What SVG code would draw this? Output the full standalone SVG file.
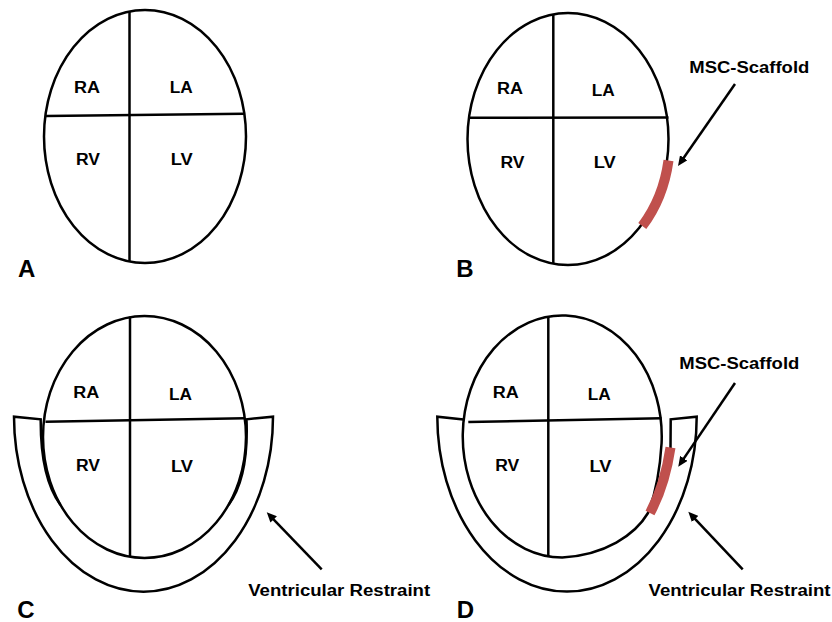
<svg xmlns="http://www.w3.org/2000/svg" width="832" height="622" viewBox="0 0 832 622">
  <style>
    .wall { fill: none; stroke: #000; stroke-width: 2.5; }
    .septum { fill: none; stroke: #000; stroke-width: 2.5; stroke-linecap: butt; }
    .restraint { fill: none; stroke: #000; stroke-width: 2.5; stroke-linejoin: miter; }
    .scaffold { fill: none; stroke: #C0504D; stroke-width: 10; stroke-linecap: butt; }
    .lbl { font-family: "Liberation Sans", Arial, Helvetica, sans-serif; font-weight: bold; font-size: 16px; fill: #000; text-anchor: middle; }
    .panel { font-family: "Liberation Sans", Arial, Helvetica, sans-serif; font-weight: bold; font-size: 24px; fill: #000; text-anchor: middle; }
    .arrow { stroke: #000; stroke-width: 2.5; fill: none; marker-end: url(#head); }
  </style>
  <defs>
    <marker id="head" viewBox="0 0 10 9" markerWidth="10" markerHeight="9" refX="3" refY="4.5" orient="auto" markerUnits="userSpaceOnUse">
      <path d="M0,0 L10,4.5 L0,9 z" fill="#000"/>
    </marker>
  </defs>
  <rect width="832" height="622" fill="#fff"/>

  <!-- Panel A: heart -->
  <g id="heart-a">
    <ellipse class="wall" cx="145" cy="136.5" rx="101" ry="126.5"/>
    <line class="septum" x1="129.5" y1="11" x2="129.5" y2="262"/>
    <line class="septum" x1="46" y1="116" x2="244" y2="113.7"/>
    <text class="lbl" x="87" y="92.7" textLength="26" lengthAdjust="spacingAndGlyphs">RA</text>
    <text class="lbl" x="181.3" y="93.3" textLength="23" lengthAdjust="spacingAndGlyphs">LA</text>
    <text class="lbl" x="88" y="165" textLength="24" lengthAdjust="spacingAndGlyphs">RV</text>
    <text class="lbl" x="181.7" y="165" textLength="22" lengthAdjust="spacingAndGlyphs">LV</text>
  </g>
  <g id="label-a"><text class="panel" x="26.7" y="276.7">A</text></g>

  <!-- Panel B: heart with scaffold -->
  <g id="heart-b">
    <ellipse class="wall" cx="568" cy="139" rx="100.5" ry="126"/>
    <line class="septum" x1="553.3" y1="14" x2="553.3" y2="264"/>
    <line class="septum" x1="468" y1="117.7" x2="668.5" y2="117.5"/>
    <text class="lbl" x="510" y="94.3" textLength="26" lengthAdjust="spacingAndGlyphs">RA</text>
    <text class="lbl" x="603.3" y="96" textLength="23" lengthAdjust="spacingAndGlyphs">LA</text>
    <text class="lbl" x="512.5" y="168.3" textLength="24" lengthAdjust="spacingAndGlyphs">RV</text>
    <text class="lbl" x="604.8" y="168.3" textLength="22" lengthAdjust="spacingAndGlyphs">LV</text>
  </g>
  <g id="scaffold-b">
    <path class="scaffold" d="M668.5,160.5 A102,127 0 0 1 642.3,226"/>
  </g>
  <g id="caption-b"><text class="lbl" x="749.3" y="72.7" textLength="120" lengthAdjust="spacingAndGlyphs">MSC-Scaffold</text></g>
  <g id="label-b"><text class="panel" x="465" y="276.7">B</text></g>

  <!-- Panel C: heart inside ventricular restraint -->
  <g id="restraint-c">
    <path class="restraint" d="M60.5,505 C46,485 40.5,455 40.7,419.3 L14,416.7 A129.5,175 0 0 0 273,416.7 L246.5,419.3 C248,455 243,485 228.5,505"/>
  </g>
  <g id="heart-c">
    <ellipse class="wall" cx="144.5" cy="437" rx="101.5" ry="121"/>
    <line class="septum" x1="130" y1="316.5" x2="130" y2="557"/>
    <line class="septum" x1="45.5" y1="421.7" x2="244.5" y2="418.3"/>
    <text class="lbl" x="86.3" y="398.3" textLength="26" lengthAdjust="spacingAndGlyphs">RA</text>
    <text class="lbl" x="180.5" y="400" textLength="23" lengthAdjust="spacingAndGlyphs">LA</text>
    <text class="lbl" x="88" y="470.7" textLength="24" lengthAdjust="spacingAndGlyphs">RV</text>
    <text class="lbl" x="182" y="471.7" textLength="22" lengthAdjust="spacingAndGlyphs">LV</text>
  </g>
  <g id="caption-c"><text class="lbl" x="339.2" y="596" textLength="182" lengthAdjust="spacingAndGlyphs">Ventricular Restraint</text></g>
  <g id="label-c"><text class="panel" x="26" y="617.5">C</text></g>

  <!-- Panel D: heart with scaffold inside ventricular restraint -->
  <g id="restraint-d">
    <path class="restraint" d="M463.5,419.5 L437.3,416.7 A129.7,175 0 0 0 696.7,416.7 L670.7,419.3 L670.5,448"/>
  </g>
  <g id="heart-d">
    <path class="wall" d="M562.2,557.5 A99.5,121 0 1 1 661.6,443 C660,470 655,495 648,513 C635,535 605,555 562.2,557.5 Z"/>
    <line class="septum" x1="548.3" y1="316.5" x2="548.3" y2="557"/>
    <line class="septum" x1="468.3" y1="422" x2="661.5" y2="418.3"/>
    <text class="lbl" x="505.7" y="397.7" textLength="26" lengthAdjust="spacingAndGlyphs">RA</text>
    <text class="lbl" x="599.3" y="400" textLength="23" lengthAdjust="spacingAndGlyphs">LA</text>
    <text class="lbl" x="507.3" y="470.7" textLength="24" lengthAdjust="spacingAndGlyphs">RV</text>
    <text class="lbl" x="600.5" y="471.7" textLength="22" lengthAdjust="spacingAndGlyphs">LV</text>
  </g>
  <g id="scaffold-d">
    <path class="scaffold" d="M670.5,447.5 Q665,485 650,513"/>
  </g>
  <g id="caption-d-scaffold"><text class="lbl" x="739.3" y="369" textLength="120" lengthAdjust="spacingAndGlyphs">MSC-Scaffold</text></g>
  <g id="caption-d-restraint"><text class="lbl" x="739.5" y="596" textLength="182" lengthAdjust="spacingAndGlyphs">Ventricular Restraint</text></g>
  <g id="label-d"><text class="panel" x="465.3" y="617.5">D</text></g>

  <!-- Pointer arrows -->
  <g id="connectors">
    <line class="arrow" x1="735" y1="84" x2="682" y2="160.25"/>
    <line class="arrow" x1="735" y1="383" x2="682.2" y2="460.9"/>
    <line class="arrow" x1="321.7" y1="569.3" x2="271.6" y2="517.3"/>
    <line class="arrow" x1="742.7" y1="569.3" x2="693.1" y2="516.8"/>
  </g>
</svg>
